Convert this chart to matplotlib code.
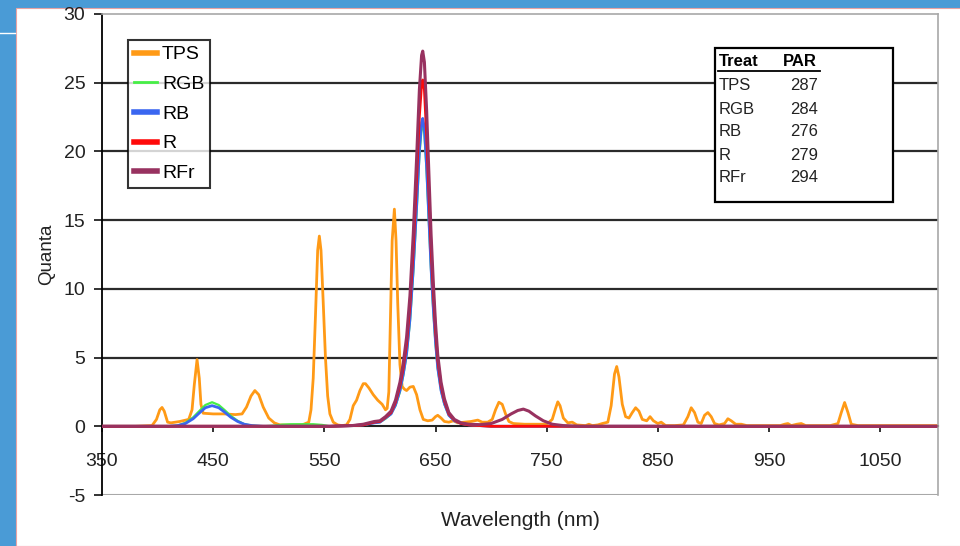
import matplotlib
matplotlib.use("Agg")
import matplotlib.pyplot as plt
from matplotlib.patches import Rectangle
from matplotlib.lines import Line2D

plt.rcParams['font.family'] = ['Liberation Sans', 'DejaVu Sans']
plt.rcParams['axes.unicode_minus'] = False

# ---- data ----
tps_wl = [350, 380, 395, 399, 402, 404, 406, 409, 412, 420, 428, 431, 433, 435.5, 437.5, 439, 441,
          450, 460, 470, 476, 480, 484, 487.5, 491, 495, 500, 505, 510, 520, 530, 536, 538, 540,
          542, 544, 545.5, 547, 549, 551, 553, 555, 558, 562, 566, 570, 573, 576, 579, 582, 585,
          587, 590, 594, 598, 602, 605, 606.5, 608, 609.5, 611, 613, 614.5, 616, 618, 620, 622,
          624, 627, 630, 633, 636, 639, 643, 647, 650, 652, 655, 658, 662, 666, 670, 676, 682,
          688, 692, 697, 701, 704, 707, 710, 713, 716, 720, 730, 740, 750, 755, 758, 760, 762,
          765, 769, 773, 777, 785, 788, 791, 796, 800, 805, 808, 811, 813, 815, 818, 821, 824,
          827, 830, 833, 836, 840, 843, 846, 850, 853, 857, 865, 873, 877, 880, 883, 886, 889,
          892, 895, 898, 901, 905, 910, 913, 916, 920, 925, 930, 940, 960, 964, 967, 970, 975,
          979, 983, 995, 1005, 1012, 1015, 1018, 1021, 1024, 1030, 1050, 1070, 1100]
tps_q = [0, 0, 0.05, 0.5, 1.2, 1.37, 1.1, 0.3, 0.25, 0.35, 0.5, 1.2, 3.0, 4.85, 3.5, 1.6, 0.95,
         0.9, 0.9, 0.85, 0.9, 1.4, 2.2, 2.6, 2.3, 1.4, 0.6, 0.25, 0.1, 0.08, 0.1, 0.3, 1.2, 3.5,
         8.0, 12.8, 13.84, 12.8, 9.0, 5.0, 2.2, 0.9, 0.3, 0.1, 0.05, 0.1, 0.5, 1.5, 1.9, 2.6, 3.1,
         3.1, 2.8, 2.3, 1.9, 1.6, 1.2, 1.3, 2.5, 8.0, 13.5, 15.8, 13.5, 9.0, 4.5, 2.9, 2.7,
         2.6, 2.85, 2.9, 2.3, 1.2, 0.5, 0.4, 0.45, 0.7, 0.8, 0.6, 0.35, 0.3, 0.4, 0.25, 0.3, 0.35,
         0.45, 0.3, 0.3, 0.5, 1.2, 1.75, 1.6, 0.9, 0.35, 0.2, 0.15, 0.15, 0.15, 0.5, 1.3, 1.78, 1.5,
         0.6, 0.25, 0.3, 0.1, 0.05, 0.15, 0.05, 0.1, 0.2, 0.3, 1.5, 3.8, 4.35, 3.6, 1.6, 0.7, 0.6,
         1.0, 1.35, 1.1, 0.5, 0.4, 0.7, 0.4, 0.2, 0.3, 0.05, 0.05, 0.1, 0.7, 1.35, 1.0, 0.3, 0.2,
         0.8, 1.0, 0.7, 0.2, 0.1, 0.2, 0.55, 0.4, 0.15, 0.15, 0.05, 0.05, 0.05, 0.15, 0.2, 0.05, 0.15,
         0.2, 0.05, 0.05, 0.05, 0.2, 1.0, 1.73, 1.0, 0.15, 0.05, 0.05, 0.05, 0.05]

led_wl = [350, 410, 418, 425, 432, 438, 443, 449, 455, 460, 466, 472, 478, 485, 495, 505, 512,
          520, 530, 540, 548, 555, 575, 585, 595, 600, 605, 610, 614, 618, 621, 624, 627, 630,
          633, 635.5, 637.5, 638.5, 640, 642, 644, 646, 648, 650, 652, 655, 658, 662, 667, 673,
          680, 690, 700, 710, 718, 724, 729, 734, 740, 747, 755, 765, 780, 1100]
rgb_q = [0, 0, 0.05, 0.25, 0.65, 1.15, 1.55, 1.75, 1.55, 1.2, 0.75, 0.4, 0.15, 0.05, 0, 0.05, 0.12,
         0.15, 0.15, 0.15, 0.1, 0, 0.05, 0.1, 0.25, 0.3, 0.55, 0.9, 1.5, 2.5, 3.7, 5.2, 7.6, 11.2,
         15.6, 19.7, 21.7, 22.0, 21.3, 18.5, 14.9, 11.3, 8.4, 6.0, 4.2, 2.6, 1.6, 0.8, 0.4, 0.2,
         0.1, 0.05, 0, 0, 0, 0, 0, 0, 0, 0, 0, 0, 0, 0]
rb_q = [0, 0, 0.05, 0.2, 0.55, 1.0, 1.35, 1.5, 1.35, 1.05, 0.65, 0.35, 0.15, 0.05, 0, 0, 0,
        0, 0, 0, 0, 0, 0.05, 0.1, 0.25, 0.3, 0.6, 0.9, 1.55, 2.6, 3.8, 5.3, 7.8, 11.5,
        16.0, 20.1, 22.1, 22.4, 21.7, 18.9, 15.2, 11.5, 8.6, 6.15, 4.25, 2.6, 1.65, 0.8, 0.4, 0.2,
        0.1, 0.05, 0, 0, 0, 0, 0, 0, 0, 0, 0, 0, 0, 0]
r_q = [0, 0, 0, 0, 0, 0, 0, 0, 0, 0, 0, 0, 0, 0, 0, 0, 0,
       0, 0, 0, 0, 0, 0.05, 0.1, 0.3, 0.35, 0.65, 1.0, 1.75, 2.95, 4.25, 6.0, 8.8, 12.9,
       18.0, 22.6, 24.9, 25.2, 24.5, 21.2, 17.1, 12.9, 9.7, 6.9, 4.8, 2.95, 1.85, 0.9, 0.45, 0.2,
       0.1, 0.05, 0, 0, 0, 0, 0, 0, 0, 0, 0, 0, 0, 0]
rfr_q = [0, 0, 0, 0, 0, 0, 0, 0, 0, 0, 0, 0, 0, 0, 0, 0, 0,
         0, 0, 0, 0, 0, 0.05, 0.15, 0.35, 0.4, 0.7, 1.1, 1.9, 3.2, 4.6, 6.5, 9.5, 14.0,
         19.5, 24.5, 27.0, 27.3, 26.5, 23.0, 18.5, 14.0, 10.5, 7.5, 5.2, 3.2, 2.0, 1.0, 0.5, 0.25,
         0.15, 0.12, 0.2, 0.5, 0.9, 1.15, 1.25, 1.1, 0.75, 0.4, 0.15, 0.05, 0, 0]

treat_names = ['TPS', 'RGB', 'RB', 'R', 'RFr']
par_values = [287, 284, 276, 279, 294]

x_ticks = [350, 450, 550, 650, 750, 850, 950, 1050]
y_ticks = [-5, 0, 5, 10, 15, 20, 25, 30]

W, H = 960, 546


def fx(px):
    return px / W


def fy(py):
    return 1 - py / H


fig = plt.figure(figsize=(9.6, 5.46), dpi=100, facecolor='#4a9bd6')
fig.add_artist(Rectangle((fx(16), 0), 1, fy(8), transform=fig.transFigure,
                         facecolor='white', edgecolor='#e8a3a3', lw=0.8, zorder=0))
fig.add_artist(Line2D([0, fx(15)], [fy(33), fy(33)], transform=fig.transFigure,
                      color='white', lw=1))

ax = fig.add_axes([fx(102), fy(495), fx(938) - fx(102), fy(14) - fy(495)])
ax.set_facecolor('white')

series = [
    (tps_wl, tps_q, 'TPS', '#ff9a16', 2.0),
    (led_wl, rgb_q, 'RGB', '#46ee46', 1.6),
    (led_wl, rb_q, 'RB', '#3a66f0', 2.0),
    (led_wl, r_q, 'R', '#ff0a0a', 2.0),
    (led_wl, rfr_q, 'RFr', '#983260', 2.2),
]
for wl, q, name, col, lw in series:
    ax.plot(wl, q, color=col, lw=lw, label=name, zorder=3)

ax.set_xlim(350, 1102)
ax.set_ylim(-5, 30)
ax.set_xticks(x_ticks)
ax.set_yticks(y_ticks)

for v in [5, 10, 15, 20, 25]:
    ax.axhline(v, color='#2b2b2b', lw=1.6, zorder=1)

for s in ['top', 'right']:
    ax.spines[s].set_color('#a8a8a8')
    ax.spines[s].set_linewidth(1.2)
ax.spines['left'].set_color('black')
ax.spines['left'].set_linewidth(1.3)
ax.spines['bottom'].set_position(('data', 0))
ax.spines['bottom'].set_color('#222222')
ax.spines['bottom'].set_linewidth(1.5)
ax.spines['bottom'].set_zorder(2)
ax.axhline(-5, color='#a8a8a8', lw=1.5, zorder=1)

ax.tick_params(axis='x', direction='out', length=4, width=1.3, pad=15, labelsize=14, colors='#222222')
ax.tick_params(axis='y', direction='out', length=6, width=1.3, pad=6, labelsize=14, colors='#222222')

ax.set_ylabel('Quanta', fontsize=13.5, color='#222222')
ax.yaxis.set_label_coords(-0.056, 0.5)
ax.set_xlabel('Wavelength (nm)', fontsize=15, color='#222222')
ax.xaxis.set_label_coords(0.5, -0.033)

leg = ax.legend(loc='upper left', bbox_to_anchor=(0.031, 0.946), borderaxespad=0,
                fontsize=14, frameon=True, fancybox=False, handlelength=1.2,
                handletextpad=0.25, labelspacing=0.62, borderpad=0.3)
leg.get_frame().set_edgecolor('black')
leg.get_frame().set_linewidth(1.5)
for h in leg.get_lines():
    h.set_linewidth(4 if h.get_label() != 'RGB' else 2)
leg.set_zorder(5)

# PAR table box
fig.add_artist(Rectangle((fx(715), fy(202)), fx(893) - fx(715), fy(48) - fy(202),
                         transform=fig.transFigure, facecolor='white', edgecolor='black',
                         lw=1.6, zorder=4))
fig.text(fx(719), fy(62), 'Treat', fontsize=12, fontweight='bold', va='center', ha='left', zorder=5)
fig.text(fx(783), fy(62), 'PAR', fontsize=12, fontweight='bold', va='center', ha='left', zorder=5)
fig.add_artist(Line2D([fx(718), fx(820)], [fy(71), fy(71)], transform=fig.transFigure,
                      color='black', lw=1.3, zorder=5))
for i, (name, val) in enumerate(zip(treat_names, par_values)):
    y = 86 + i * 23
    fig.text(fx(719), fy(y), name, fontsize=12, va='center', ha='left', color='#222222', zorder=5)
    fig.text(fx(818), fy(y), str(val), fontsize=12, va='center', ha='right', color='#222222', zorder=5)

fig.savefig('out.png', dpi=100, facecolor=fig.get_facecolor())
